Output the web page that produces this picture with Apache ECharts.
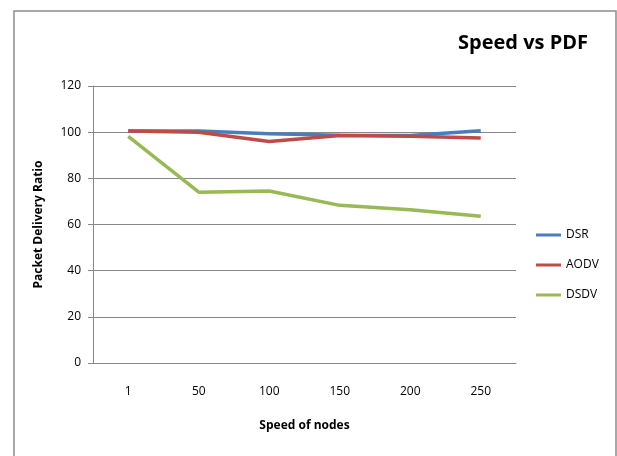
<!DOCTYPE html>
<html><head><meta charset="utf-8">
<script src="https://cdn.jsdelivr.net/npm/echarts@6/dist/echarts.min.js"></script>
<style>html,body{margin:0;padding:0;background:#fff}#c{width:617px;height:456px}</style>
</head><body><div id="c"></div>
<script>
const categories = ['1','50','100','150','200','250'];
const dsr  = [100.5, 100.5, 99.3, 98.7, 98.6, 100.6];
const aodv = [100.5, 100.0, 96.0, 98.6, 98.2, 97.5];
const dsdv = [98.2, 74.0, 74.5, 68.3, 66.4, 63.6];
const seriesNames = ['DSR','AODV','DSDV'];
const colors = ['#4a7ebb','#be4b48','#98b954'];
const font = '"Open Sans", "Liberation Sans", sans-serif';
const chart = echarts.init(document.getElementById('c'));
chart.setOption({
  animation:false,
  backgroundColor:'#fff',
  color:colors,
  graphic:[{type:'rect',shape:{x:14,y:11,width:602,height:460},style:{fill:'none',stroke:'#8c8c8c',lineWidth:1.5},silent:true}],
  title:{text:'Speed vs PDF',right:24,top:28,textStyle:{fontFamily:font,fontSize:20,fontWeight:'bold',color:'#000'}},
  legend:{orient:'vertical',left:531,top:224,itemGap:18,itemWidth:25,itemHeight:3,icon:'rect',
    textStyle:{fontFamily:font,fontSize:12,color:'#000'},data:seriesNames},
  grid:{left:93,right:101,top:86,bottom:93},
  xAxis:{type:'category',data:categories,boundaryGap:true,
    name:'Speed of nodes',nameLocation:'middle',nameGap:57,
    nameTextStyle:{fontFamily:font,fontSize:12,fontWeight:'bold',color:'#000'},
    axisLine:{lineStyle:{color:'#888',width:1}},axisTick:{show:false},
    axisLabel:{fontFamily:font,fontSize:12,color:'#000',margin:23}},
  yAxis:{type:'value',min:0,max:120,interval:20,
    name:'Packet Delivery Ratio',nameLocation:'middle',nameGap:48,
    nameTextStyle:{fontFamily:font,fontSize:12,fontWeight:'bold',color:'#000'},
    axisLine:{show:true,lineStyle:{color:'#888'}},axisTick:{show:true,length:5,lineStyle:{color:'#888'}},
    axisLabel:{fontFamily:font,fontSize:12,color:'#000',margin:12},
    splitLine:{lineStyle:{color:'#888',width:1}}},
  series:[
    {name:'DSR',type:'line',data:dsr,symbol:'none',lineStyle:{width:3.5,color:colors[0]}},
    {name:'AODV',type:'line',data:aodv,symbol:'none',lineStyle:{width:3.5,color:colors[1]}},
    {name:'DSDV',type:'line',data:dsdv,symbol:'none',lineStyle:{width:3.5,color:colors[2]}}
  ]
});
</script></body></html>
